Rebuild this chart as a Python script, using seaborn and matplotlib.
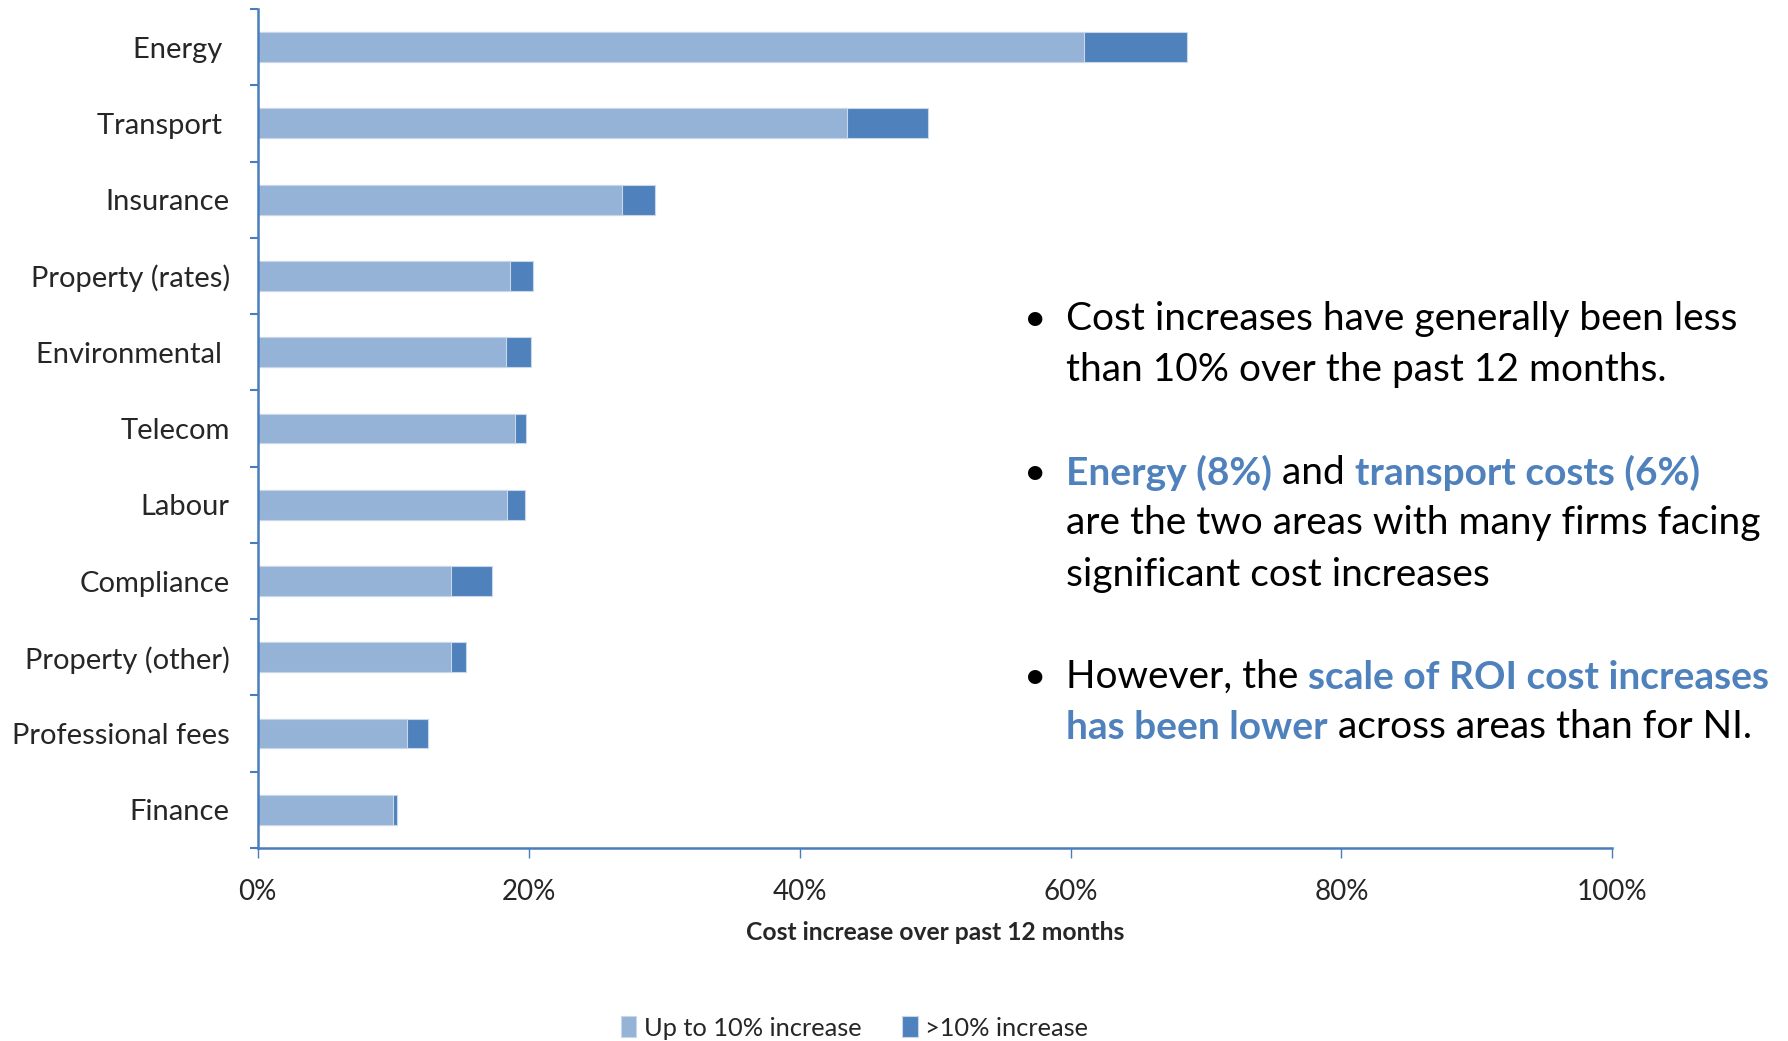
import matplotlib
matplotlib.use("Agg")
import matplotlib.pyplot as plt
import seaborn as sns
import pandas as pd
import numpy as np

categories = ["Energy ", "Transport ", "Insurance", "Property (rates)", "Environmental ",
              "Telecom", "Labour", "Compliance", "Property (other)", "Professional fees", "Finance"]
up_to_10 = [61.0, 43.5, 26.9, 18.6, 18.3, 19.0, 18.4, 14.3, 14.3, 11.0, 10.0]
over_10 = [7.6, 6.0, 2.4, 1.7, 1.9, 0.8, 1.3, 3.0, 1.1, 1.6, 0.25]
x_ticks = [0, 20, 40, 60, 80, 100]
x_ticklabels = ["0%", "20%", "40%", "60%", "80%", "100%"]

LIGHT = "#95B3D7"
DARK = "#4F81BD"
AXC = "#4A7EBB"
BLUE_TXT = "#4F81BD"

sns.set_theme(style="white")
FONT = ["Lato", "DejaVu Sans"]
plt.rcParams["font.family"] = FONT

df = pd.DataFrame({"cat": categories, "low": up_to_10, "high": over_10})
df["total"] = df["low"] + df["high"]

fig = plt.figure(figsize=(17.88, 10.41), dpi=100)
ax = fig.add_axes([0.1441, 0.1854, 0.9018 - 0.1441, 0.9914 - 0.1854])

sns.barplot(data=df, x="total", y="cat", color=DARK, saturation=1, width=0.39,
            edgecolor="#C9D7EA", linewidth=0.8, ax=ax, label=">10% increase")
sns.barplot(data=df, x="low", y="cat", color=LIGHT, saturation=1, width=0.39,
            edgecolor="#C9D7EA", linewidth=0.8, ax=ax, label="Up to 10% increase")
handles, labels = ax.get_legend_handles_labels()
if ax.get_legend() is not None:
    ax.get_legend().remove()

ax.set_xlim(0, 100)
ax.set_ylim(len(categories) - 0.5, -0.5)
ax.set_xticks(x_ticks)
ax.set_xticklabels(x_ticklabels, fontsize=20)
ax.set_yticks(range(len(categories)))
ax.set_yticklabels(categories, fontsize=21)
ax.set_yticks(np.arange(-0.5, len(categories), 1.0), minor=True)
ax.tick_params(axis="y", which="both", left=True)
ax.tick_params(axis="x", which="both", bottom=True)
ax.tick_params(axis="y", which="major", length=0, pad=20)
ax.tick_params(axis="y", which="minor", length=6, width=1.5, color=AXC, direction="out")
ax.tick_params(axis="x", which="major", length=7, width=1.0, color=AXC, direction="out", pad=15)
ax.set_xlabel("Cost increase over past 12 months", fontsize=17.7, fontweight="bold", labelpad=12)
ax.set_ylabel("")
ax.grid(False)

for s in ["top", "right"]:
    ax.spines[s].set_visible(False)
for s in ["left", "bottom"]:
    ax.spines[s].set_color(AXC)
    ax.spines[s].set_linewidth(1.8)

# legend
order = [labels.index("Up to 10% increase"), labels.index(">10% increase")]
leg = fig.legend([handles[i] for i in order], [labels[i] for i in order],
                 loc="center", bbox_to_anchor=(0.478, 1 - 1028 / 1041), ncol=2, frameon=False,
                 fontsize=18.3, handlelength=0.6, handleheight=0.9, handletextpad=0.3, columnspacing=1.6)

# annotation text
TS = 28
x_bullet = 1035 / 1788
x_text = 1066 / 1788
def fy(y):
    return 1 - y / 1041

def line(parts, y):
    prev = None
    for txt, blue in parts:
        kw = dict(fontsize=TS, color=BLUE_TXT if blue else "black",
                  fontweight="bold" if blue else "normal", ha="left")
        if prev is None:
            prev = fig.text(x_text, fy(y), txt, va="center", **kw)
        else:
            prev = ax.annotate(txt, xy=(1, 0), xycoords=prev, va="bottom",
                               annotation_clip=False, **kw)

def bullet(y):
    fig.text(x_bullet, fy(y), "\u2022", fontsize=TS, ha="center", va="center", color="black")

bullet(319)
line([("Cost increases have generally been less", False)], 319)
line([("than 10% over the past 12 months.", False)], 369.5)
bullet(473)
line([("Energy (8%)", True), (" and ", False), ("transport costs (6%)", True)], 473)
line([("are the two areas with many firms facing", False)], 523)
line([("significant cost increases", False)], 575)
bullet(677)
line([("However, the ", False), ("scale of ROI cost increases", True)], 677)
line([("has been lower", True), (" across areas than for NI.", False)], 727.5)

fig.savefig("out.png", dpi=100)
